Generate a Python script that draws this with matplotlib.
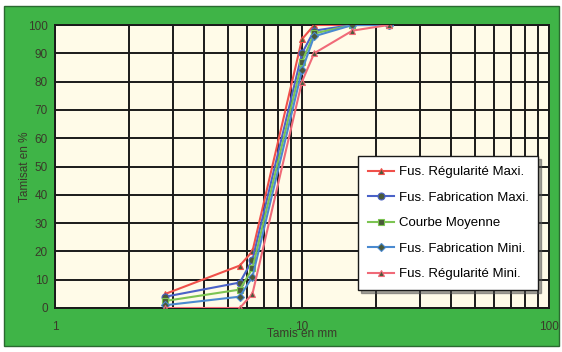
import matplotlib
matplotlib.use('Agg')
import matplotlib.pyplot as plt
from matplotlib.patches import Rectangle
from matplotlib.ticker import LogLocator, NullFormatter, FixedLocator, FixedFormatter

# ouvertures des tamis (mm) et tamisats (%)
tamis = [2.8, 5.6, 6.3, 10, 11.2, 16, 22.4]
reg_maxi = [5, 15, 20, 95, 100, 100, 100]
fab_maxi = [4, 9, 17, 90, 98, 100, 100]
moyenne = [2.5, 6.5, 14, 87, 97, 100, 100]
fab_mini = [1, 4, 11, 84, 96, 100, 100]
reg_mini = [0, 0, 5, 80, 90, 98, 100]

labels = ['Fus. Régularité Maxi.', 'Fus. Fabrication Maxi.', 'Courbe Moyenne',
          'Fus. Fabrication Mini.', 'Fus. Régularité Mini.']
series = [reg_maxi, fab_maxi, moyenne, fab_mini, reg_mini]
colors = ['#f0504a', '#4a62c8', '#7cc452', '#4a8ad0', '#f06a78']
markers = ['^', 'o', 's', 'D', '^']
msizes = [5, 5, 4.5, 4, 5]

plt.rcParams['font.family'] = ['Liberation Sans', 'DejaVu Sans']

fig = plt.figure(figsize=(5.62, 3.52), dpi=100)
fig.patch.set_facecolor('white')
fig.patches.append(Rectangle((4 / 562, 6 / 352), 555 / 562, 340 / 352,
                             transform=fig.transFigure, facecolor='#3fb447',
                             edgecolor='#2a6a30', linewidth=1.0, zorder=-5))

ax = fig.add_axes([55 / 562, 44 / 352, 494 / 562, 283 / 352])
ax.set_facecolor('#fffbe8')

for vals, lab, c, m, ms in zip(series, labels, colors, markers, msizes):
    ax.plot(tamis, vals, color=c, lw=1.5, marker=m, markersize=ms,
            markerfacecolor='#4a5a3a', markeredgecolor=c, markeredgewidth=0.8,
            label=lab, zorder=3)

ax.set_xscale('log')
ax.set_xlim(1, 100)
ax.set_ylim(0, 100)
ax.yaxis.set_major_locator(FixedLocator(range(0, 101, 10)))
ax.xaxis.set_major_locator(FixedLocator([1, 10, 100]))
ax.xaxis.set_major_formatter(FixedFormatter(['1', '10', '100']))
ax.xaxis.set_minor_locator(LogLocator(base=10, subs=range(2, 10)))
ax.xaxis.set_minor_formatter(NullFormatter())

ax.grid(True, which='major', color='#1a1a1a', lw=1.4)
ax.grid(True, which='minor', axis='x', color='#1a1a1a', lw=1.4)
for s in ax.spines.values():
    s.set_color('#1a1a1a')
    s.set_linewidth(1.4)

ax.tick_params(axis='both', which='both', length=0)
ax.tick_params(axis='y', pad=5, labelsize=8.5, labelcolor='#3a3a2a')
ax.tick_params(axis='x', pad=9, labelsize=8.5, labelcolor='#3a3a2a')
ax.set_xlabel('Tamis en mm', fontsize=8.5, color='#3a3a2a', labelpad=-3)
ax.set_ylabel('Tamisat en %', fontsize=8.5, color='#3a3a2a', labelpad=-2)

leg = ax.legend(loc='lower right', bbox_to_anchor=(0.992, 0.04),
                fontsize=9.5, frameon=True, fancybox=False, shadow=True,
                borderpad=0.75, labelspacing=1.0, handlelength=2.0,
                handletextpad=0.35)
leg.get_frame().set_edgecolor('#1a1a1a')
leg.get_frame().set_facecolor('white')
leg.get_frame().set_linewidth(1.0)
leg.get_frame().set_alpha(1)
leg.set_zorder(5)

fig.savefig('out.png', dpi=100, facecolor=fig.get_facecolor())
